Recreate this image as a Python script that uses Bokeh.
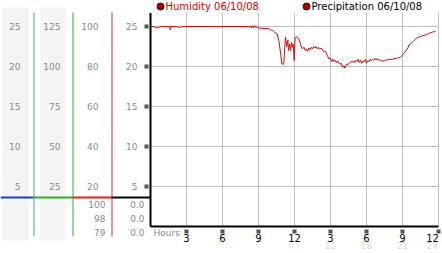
from bokeh.plotting import figure
from bokeh.core.properties import value
from bokeh.embed import file_html
from bokeh.resources import INLINE

# ---------------- data ----------------
hours = [0.0, 0.3, 0.4, 0.7, 0.8, 1.6, 1.65, 1.7, 2.2, 2.3, 2.5, 2.6, 5.0, 8.3,
         8.4, 8.5, 8.6, 8.7, 8.8, 8.9, 9.0, 9.8, 10.0, 10.2, 10.4, 10.55, 10.7,
         10.83, 10.95, 11.1, 11.25, 11.35, 11.45, 11.5, 11.6, 11.67, 11.75, 11.8,
         11.9, 11.97, 12.05, 12.17, 12.35, 12.5, 12.64, 12.8, 12.9, 13.0, 13.1,
         13.2, 13.3, 13.4, 13.5, 13.6, 13.7, 13.8, 13.9, 14.0, 14.1, 14.25, 14.4,
         14.58, 14.7, 14.86, 15.0, 15.1, 15.2, 15.3, 15.4, 15.5, 15.6, 15.7, 15.8,
         15.9, 16.0, 16.1, 16.2, 16.3, 16.5, 16.6, 16.7, 16.8, 16.9, 17.0, 17.1,
         17.2, 17.3, 17.4, 17.5, 17.6, 17.7, 17.8, 17.9, 18.0, 18.1, 18.2, 18.3,
         18.4, 18.5, 18.6, 18.7, 18.8, 18.9, 19.0, 19.2, 19.3, 19.5, 19.7, 19.8,
         20.0, 20.2, 20.3, 20.5, 20.6, 20.8, 20.97, 21.2, 21.4, 21.6, 21.8, 22.0,
         22.2, 22.4, 22.6, 22.8, 23.0, 23.3, 23.5, 23.75]
humidity = [25.0, 25.0, 24.85, 24.85, 25.0, 25.0, 24.6, 25.0, 25.0, 24.9, 24.9, 25.0, 25.0, 25.0,
            24.8, 25.1, 24.8, 25.1, 24.85, 25.0, 24.8, 24.75, 24.6, 24.5, 24.2, 24.1, 23.2,
            21.8, 20.3, 20.3, 23.7, 22.5, 23.3, 22.0, 22.8, 22.0, 23.0, 22.4, 22.8, 20.75,
            23.6, 23.7, 23.5, 22.8, 22.2, 22.4, 22.0, 22.2, 21.9, 22.3, 22.1, 22.4,
            22.2, 22.5, 22.3, 22.5, 22.2, 22.4, 22.2, 22.3, 21.9, 21.9, 21.5, 20.96,
            21.0, 20.6, 20.9, 20.6, 20.8, 20.5, 20.7, 20.4, 20.3, 20.4, 19.9, 20.1,
            19.8, 20.2, 20.3, 20.5, 20.6, 20.5, 20.7, 20.5, 20.8, 20.6, 20.9, 20.5,
            20.8, 20.4, 20.7, 20.6, 20.9, 20.4, 20.7, 20.6, 20.9, 20.7, 20.9, 20.8,
            21.0, 20.8, 21.0, 20.8, 20.8, 20.6, 20.8, 20.8, 20.9, 20.9, 20.9, 21.0,
            21.0, 21.1, 21.1, 21.4, 21.8, 22.2, 22.8, 23.0, 23.3, 23.6, 23.7, 23.8,
            23.9, 24.0, 24.2, 24.3, 24.4]

hum_ticks = [25, 20, 15, 10, 5]
col1_labels = [25, 20, 15, 10, 5]
col2_labels = [125, 100, 75, 50, 25]
col3_labels = [100, 80, 60, 40, 20]
col3_extra = ["100", "98", "79"]
col4_extra = ["0.0", "0.0", "0.0"]
x_ticks = [3, 6, 9, 12, 15, 18, 21, 24]
x_tick_labels = ["3", "6", "9", "12", "3", "6", "9", "12"]
alt_ticks = [15, 18, 21, 24]
alt_labels = ["15", "18", "21", "24"]
legend_labels = ["Humidity 06/10/08", "Precipitation 06/10/08"]

# ---------------- layout helpers (pixel -> data) ----------------
W, H = 442, 253
PLOT_LEFT, PLOT_BOTTOM, PX_H, PX_V = 150, 226, 12.0, 8.0
def hx(px):
    return (px - PLOT_LEFT) / PX_H
def vy(py):
    return (PLOT_BOTTOM - py) / PX_V

FONT = value("DejaVu Sans")
GRAY = "#8a8a8a"

p = figure(width=W, height=H, x_range=(hx(0), hx(W)), y_range=(vy(H), vy(0)),
           output_backend="svg", toolbar_location=None, min_border=0,
           x_axis_location=None, y_axis_location=None)
p.grid.visible = False
p.outline_line_color = None
p.background_fill_color = "white"
p.border_fill_color = "white"

# gray column backgrounds
p.quad(left=[hx(2), hx(40)], right=[hx(28), hx(65)], top=vy(7), bottom=vy(240),
       fill_color="#f4f4f4", line_color=None)

# colored vertical axis lines of the side scales
p.segment(x0=[hx(33.5), hx(72.5), hx(111.5)], x1=[hx(33.5), hx(72.5), hx(111.5)],
          y0=vy(12), y1=vy(236), line_color=["#3a9ccc", "#3aa83a", "#c03434"], line_width=1)

# separator
p.segment(x0=[hx(0), hx(33), hx(72), hx(111)], x1=[hx(33), hx(72), hx(111), hx(150)],
          y0=vy(197), y1=vy(197), line_color=["#1f3fd0", "#2bb02b", "#dd2222", "#000000"],
          line_width=2)

# main grid
p.segment(x0=x_ticks, x1=x_ticks, y0=0, y1=vy(12), line_color="#bdbdbd", line_width=1)
p.segment(x0=0, x1=24, y0=hum_ticks, y1=hum_ticks, line_color="#bdbdbd", line_width=1)

# humidity line
p.line(hours, humidity, line_color="#cc1111", line_width=1)

# main axes
p.segment(x0=[0, 0], x1=[0, 24], y0=[vy(12.5), 0], y1=[0, 0], line_color="black", line_width=2)

# tick marks (small checkered squares)
p.scatter(x=hx(146), y=hum_ticks, marker="square", size=4, fill_color="#555555", line_color=None)
p.scatter(x=x_ticks, y=vy(231), marker="square", size=4, fill_color="#555555", line_color=None)

# side scale labels
def side(x, ys, labels):
    p.text(x=x, y=ys, text=labels, text_font=FONT, text_font_size="9px",
           text_align="right", text_baseline="middle", text_color=GRAY)

side(hx(20), col1_labels, [str(v) for v in col1_labels])
side(hx(60), [v / 5 for v in col2_labels], [str(v) for v in col2_labels])
side(hx(98), [v / 4 for v in col3_labels], [str(v) for v in col3_labels])
side(hx(137), hum_ticks, [str(v) for v in hum_ticks])
extra_y = [vy(204), vy(218), vy(232)]
side(hx(105), extra_y, col3_extra)
side(hx(144), extra_y, col4_extra)

# x labels
xoff = [-6 if t == max(x_ticks) else 0 for t in x_ticks]
p.text(x=x_ticks, y=vy(237), text=x_tick_labels, x_offset=xoff, text_font=FONT,
       text_font_size="10px", text_align="center", text_baseline="middle", text_color="black")
aoff = [-6 if t == max(alt_ticks) else 0 for t in alt_ticks]
p.text(x=alt_ticks, y=vy(245), text=alt_labels, x_offset=aoff, text_font=FONT,
       text_font_size="9px", text_align="center", text_baseline="middle", text_color="#dcdcdc")
p.text(x=hx(153), y=vy(232), text=["Hours"], text_font=FONT,
       text_font_size="9px", text_align="left", text_baseline="middle", text_color=GRAY)

# legend
p.scatter(x=[hx(160), hx(306)], y=vy(6), size=7, fill_color="#aa0000", line_color="#440000")
p.text(x=[hx(165), hx(311)], y=vy(6), text=legend_labels, text_font=FONT,
       text_font_size="10px", text_align="left", text_baseline="middle",
       text_color=["#cc0000", "#000000"])

open("out.html", "w").write(file_html(p, INLINE))
